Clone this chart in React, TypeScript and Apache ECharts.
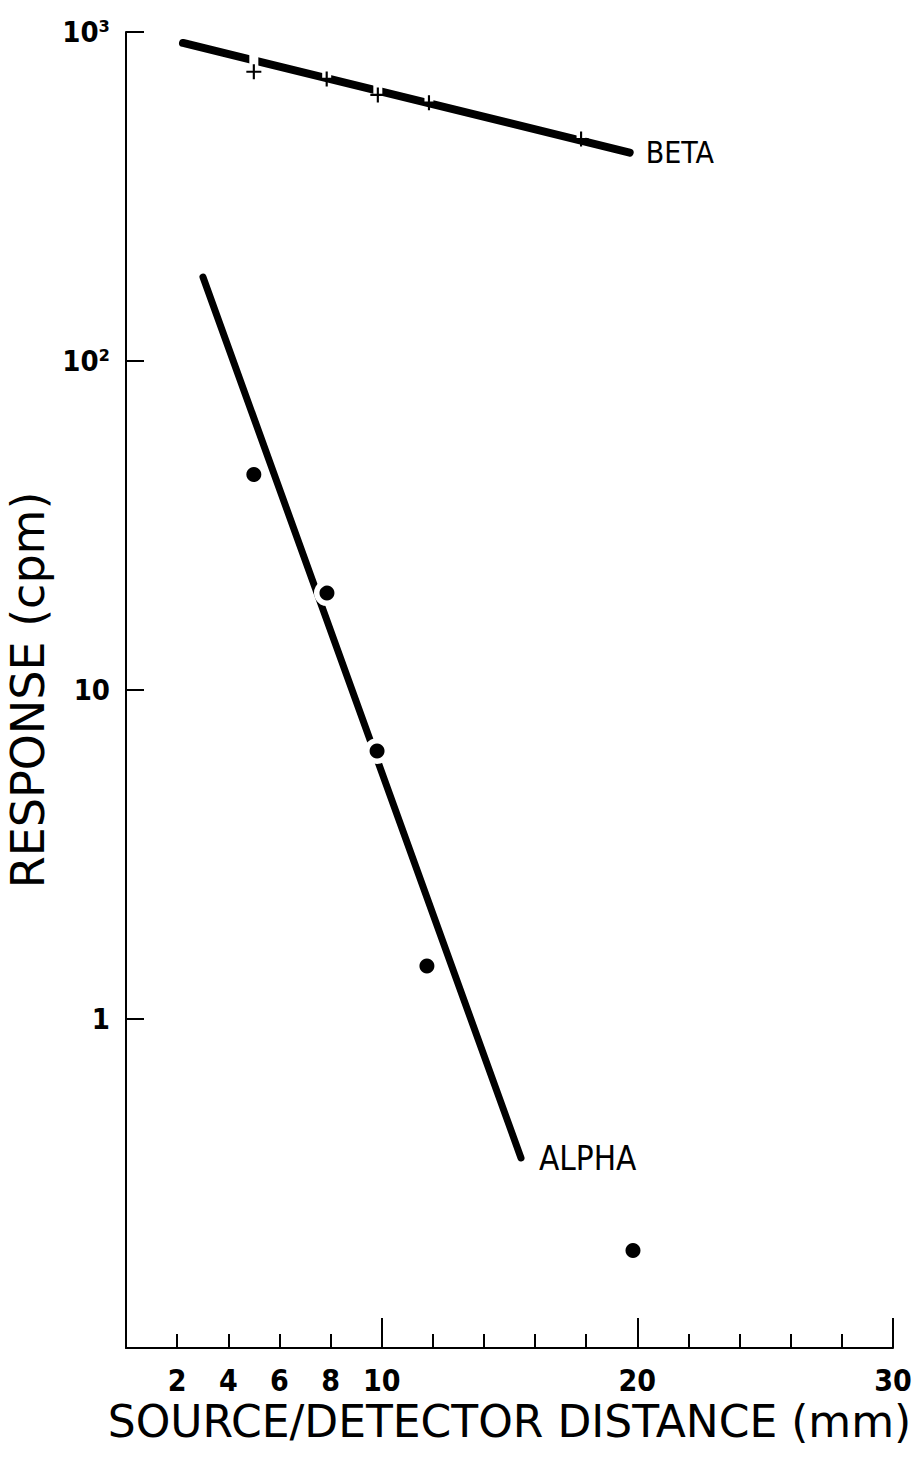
import React, { useEffect, useRef } from "react";
import * as echarts from "echarts";

// ---- data ----
const betaX = [5.0, 7.85, 9.85, 11.85, 17.8];
const betaCpm = [757, 720, 644, 610, 473];
const betaFitX = [2.23, 19.7];
const betaFitCpm = [926, 430];

const alphaX = [5.0, 7.86, 9.82, 11.77, 19.83];
const alphaCpm = [45.2, 19.7, 6.53, 1.45, 0.198];
const alphaFitX = [3.01, 15.45];
const alphaFitCpm = [180, 0.378];

const xTickLabels = [2, 4, 6, 8, 10, 20, 30];
const yDecades = [1000, 100, 10, 1];
const yTickTexts = ["10³", "10²", "10", "1"];

const COND = "'DejaVu Sans Condensed', 'DejaVu Sans', sans-serif";
const SANS = "'DejaVu Sans', sans-serif";

const pair = (xs: number[], ys: number[]) => xs.map((x, i) => [x, ys[i]]);

export default function App() {
  const ref = useRef<HTMLDivElement>(null);
  useEffect(() => {
    if (!ref.current) return;
    const chart = echarts.init(ref.current, undefined, { renderer: "svg" });
    const plusPath = "path://M6,0H8V6H14V8H8V14H6V8H0V6H6Z";
    chart.setOption({
      animation: false,
      backgroundColor: "#fff",
      grid: { left: 126, right: 24, top: 32, bottom: 110, containLabel: false, outerBoundsMode: "none" },
      xAxis: [
        {
          type: "value",
          min: 0,
          max: 30,
          interval: 2,
          position: "bottom",
          axisLine: { show: true, lineStyle: { color: "#000", width: 2 } },
          axisTick: { show: true, inside: true, length: 14, lineStyle: { color: "#000", width: 2 } },
          splitLine: { show: false },
          axisLabel: {
            color: "#000",
            fontFamily: COND,
            fontWeight: "bold",
            fontSize: 30,
            margin: 17,
            formatter: (v: number) => (xTickLabels.includes(Math.round(v)) ? String(Math.round(v)) : ""),
          },
          name: "SOURCE/DETECTOR DISTANCE (mm)",
          nameLocation: "middle",
          nameGap: 41,
          nameTextStyle: { color: "#000", fontFamily: SANS, fontSize: 44 },
        },
        {
          type: "value",
          min: 0,
          max: 30,
          interval: 10,
          position: "bottom",
          gridIndex: 0,
          axisLine: { show: false },
          axisTick: { show: true, inside: true, length: 30, lineStyle: { color: "#000", width: 2 } },
          axisLabel: { show: false },
          splitLine: { show: false },
        },
      ],
      yAxis: {
        type: "log",
        logBase: 10,
        min: 0.1,
        max: 1000,
        axisLine: { show: true, lineStyle: { color: "#000", width: 2 } },
        axisTick: { show: true, inside: true, length: 18, lineStyle: { color: "#000", width: 2 } },
        splitLine: { show: false },
        minorTick: { show: false },
        axisLabel: {
          color: "#000",
          fontFamily: COND,
          fontWeight: "bold",
          fontSize: 29,
          margin: 16,
          formatter: (v: number) => {
            const e = Math.round(Math.log10(v));
            const idx = yDecades.findIndex((d) => Math.round(Math.log10(d)) === e);
            return idx >= 0 ? yTickTexts[idx] : "";
          },
        },
        name: "RESPONSE (cpm)",
        nameLocation: "middle",
        nameGap: 68,
        nameTextStyle: { color: "#000", fontFamily: SANS, fontSize: 46 },
      },
      series: [
        {
          type: "line",
          name: "BETA fit",
          data: pair(betaFitX, betaFitCpm),
          symbol: "none",
          z: 2,
          lineStyle: { color: "#000", width: 8, cap: "round" },
          endLabel: {
            show: true,
            formatter: "BETA",
            color: "#000",
            fontFamily: COND,
            fontSize: 30,
            distance: 16,
          },
        },
        {
          type: "scatter",
          name: "BETA gaps",
          data: pair(betaX, betaCpm),
          symbol: "rect",
          symbolSize: [9, 26],
          symbolOffset: [0, -13],
          itemStyle: { color: "#fff", opacity: 1 },
          z: 3,
          silent: true,
        },
        {
          type: "scatter",
          name: "BETA",
          data: pair(betaX, betaCpm),
          symbol: plusPath,
          symbolSize: 15,
          itemStyle: { color: "#000", opacity: 1 },
          z: 4,
        },
        {
          type: "line",
          name: "ALPHA fit",
          data: pair(alphaFitX, alphaFitCpm),
          symbol: "none",
          z: 2,
          lineStyle: { color: "#000", width: 7, cap: "round" },
          endLabel: {
            show: true,
            formatter: "ALPHA",
            color: "#000",
            fontFamily: COND,
            fontSize: 33,
            distance: 18,
          },
        },
        {
          type: "scatter",
          name: "ALPHA halo",
          data: pair(alphaX, alphaCpm),
          symbol: "circle",
          symbolSize: 26,
          itemStyle: { color: "#fff", opacity: 1 },
          z: 3,
          silent: true,
        },
        {
          type: "scatter",
          name: "ALPHA",
          data: pair(alphaX, alphaCpm),
          symbol: "circle",
          symbolSize: 15,
          itemStyle: { color: "#000", opacity: 1 },
          z: 4,
        },
      ],
    });
    return () => chart.dispose();
  }, []);
  return (
    <div
      ref={ref}
      style={{ position: "fixed", left: 0, top: 0, width: 917, height: 1458, background: "#fff" }}
    />
  );
}
